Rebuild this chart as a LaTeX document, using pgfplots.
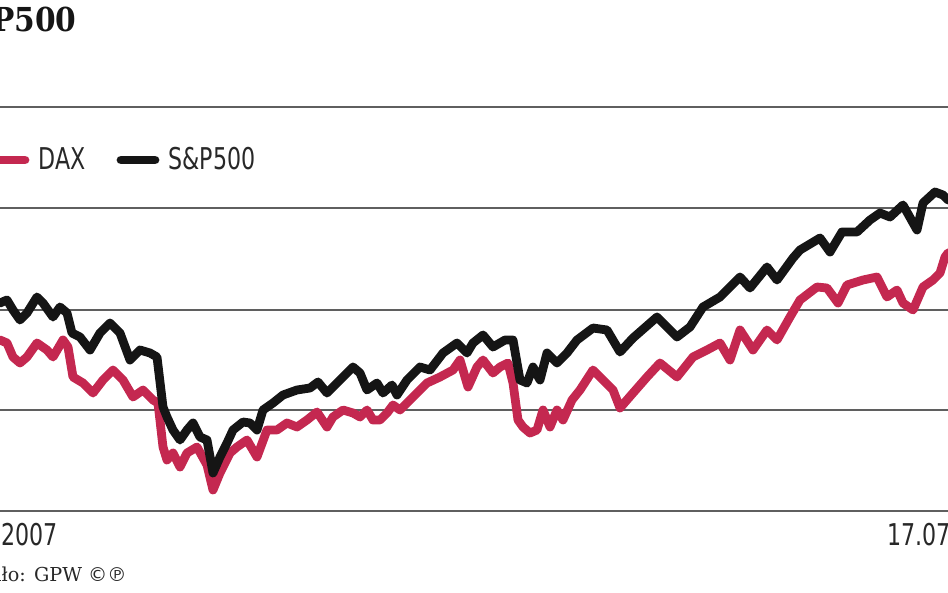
\documentclass[border=0pt]{standalone}
\usepackage{pgfplots}
\pgfplotsset{compat=1.18}
\usepackage{fontspec}
\newfontfamily\legfont[FakeStretch=0.82]{DejaVu Sans Condensed}
\newfontfamily\titlefont{DejaVu Serif Condensed}
\newfontfamily\srcfont{DejaVu Serif}
\newfontfamily\symfont{DejaVu Sans}
\definecolor{daxred}{RGB}{196,40,80}
\definecolor{spblack}{RGB}{21,21,21}
\definecolor{gridgray}{RGB}{95,95,95}
\definecolor{txtgray}{RGB}{40,40,40}
\begin{document}
\begin{tikzpicture}
\path[use as bounding box] (0,0) rectangle (474pt,296.5pt);
\clip (0,0) rectangle (474pt,296.5pt);
\begin{axis}[
  at={(0,0)}, anchor=south west,
  x=0.5pt, y=0.5pt,
  xmin=0, xmax=948, ymin=0, ymax=593,
  y dir=reverse,
  axis line style={draw=none},
  major tick length=0pt,
  xtick=\empty,
  ytick={107,208,310,410,511},
  yticklabels={},
  ymajorgrids,
  grid style={gridgray, line width=1.1pt},
  clip=false,
]
\addplot[daxred, line width=4.4pt, line join=round, line cap=round] coordinates {
(0,340)(7,343)(13,357)(20,363)(27,357)(37,343)(47,350)(53,357)(63,340)(68,347)
(73,377)(83,383)(93,393)(103,380)(113,370)(123,380)(133,397)(143,390)(153,400)(158,403)
(163,447)(167,460)(173,453)(180,467)(187,453)(197,447)(207,465)(213,490)(220,473)(230,453)
(237,447)(247,440)(257,457)(267,430)(277,430)(287,423)(297,427)(307,420)(317,412)(327,427)
(333,417)(343,410)(353,413)(360,417)(367,410)(373,420)(380,420)(387,413)(393,405)(400,410)
(413,397)(427,383)(440,377)(453,370)(460,360)(468,387)(477,367)(483,360)(493,373)(500,367)
(508,363)(513,383)(518,420)(523,427)(530,433)(537,430)(543,410)(550,427)(557,410)(563,420)
(572,400)(580,390)(593,370)(603,380)(613,390)(620,408)(633,393)(647,377)(660,363)(677,377)
(693,357)(707,350)(720,343)(730,360)(740,330)(753,350)(767,330)(777,340)(790,317)(800,300)
(817,287)(827,288)(838,303)(847,285)(863,280)(877,277)(887,297)(897,290)(903,303)(913,310)
(923,287)(933,280)(940,273)(945,257)(948,253)
};
\addplot[spblack, line width=4.4pt, line join=round, line cap=round] coordinates {
(0,303)(7,300)(13,310)(20,320)(27,313)(37,297)(43,303)(53,317)(60,307)(67,313)
(72,333)(80,337)(90,350)(100,333)(110,323)(120,333)(130,360)(140,350)(150,353)(157,357)
(163,407)(167,417)(173,430)(180,440)(187,430)(193,423)(200,437)(207,440)(213,473)(220,457)
(227,443)(233,430)(243,422)(250,423)(257,430)(263,410)(273,403)(283,395)(297,390)(310,388)
(318,382)(327,393)(333,387)(343,377)(353,367)(360,373)(367,390)(377,383)(383,393)(392,385)
(397,395)(407,380)(420,367)(430,370)(443,353)(457,343)(467,353)(473,343)(483,335)(493,347)
(505,340)(513,340)(520,380)(527,383)(533,367)(540,380)(547,353)(557,363)(567,353)(577,340)
(593,328)(607,330)(620,352)(633,338)(657,317)(677,337)(690,327)(703,307)(720,297)(740,277)
(750,288)(767,267)(777,280)(793,258)(800,250)(820,238)(830,252)(842,232)(857,232)(870,220)
(880,213)(890,217)(903,205)(917,230)(923,203)(935,192)(943,195)(948,200)
};
% title
\node[anchor=base east, inner sep=0pt, font=\titlefont\bfseries\fontsize{16.5pt}{18pt}\selectfont, text=spblack]
  at (axis cs:77,32) {DAX i S\&P500};
% legend
\draw[daxred, line width=4.4pt, line cap=round] (axis cs:-10,160) -- (axis cs:25,160);
\node[anchor=base west, inner sep=0pt, font=\legfont\fontsize{15pt}{17pt}\selectfont, text=txtgray]
  at (axis cs:38,170) {DAX};
\draw[spblack, line width=4.4pt, line cap=round] (axis cs:121,160) -- (axis cs:155,160);
\node[anchor=base west, inner sep=0pt, font=\legfont\fontsize{15pt}{17pt}\selectfont, text=txtgray]
  at (axis cs:168,170) {S\&P500};
% x labels
\node[anchor=base east, inner sep=0pt, font=\legfont\fontsize{15pt}{17pt}\selectfont, text=txtgray]
  at (axis cs:58,545) {17.07.2007};
\node[anchor=base west, inner sep=0pt, font=\legfont\fontsize{15pt}{17pt}\selectfont, text=txtgray]
  at (axis cs:887,545) {17.07.2017};
% source
\node[anchor=base east, inner sep=0pt, font=\srcfont\fontsize{9.6pt}{11pt}\selectfont, text=txtgray]
  at (axis cs:127,581) {Źródło: GPW {\symfont ©℗}};
\end{axis}
\end{tikzpicture}
\end{document}
